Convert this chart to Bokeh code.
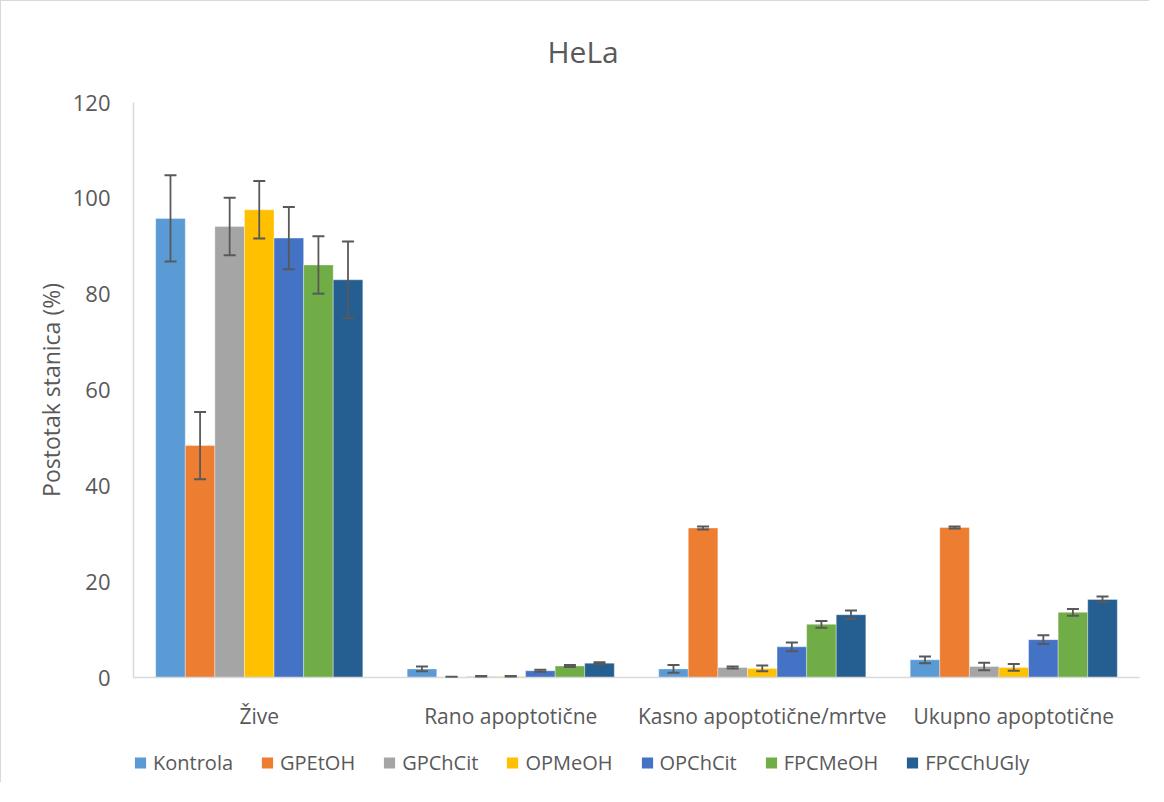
from bokeh.plotting import figure
from bokeh.models import ColumnDataSource, FactorRange, Range1d, Whisker, Legend, LegendItem, TeeHead
from bokeh.layouts import column
from bokeh.transform import dodge
from bokeh.embed import file_html
from bokeh.resources import INLINE

categories = ["Žive", "Rano apoptotične", "Kasno apoptotične/mrtve", "Ukupno apoptotične"]
series_names = ["Kontrola", "GPEtOH", "GPChCit", "OPMeOH", "OPChCit", "FPCMeOH", "FPCChUGly"]

kontrola = [95.8, 1.8, 1.8, 3.7]
kontrola_err = [9.0, 0.5, 0.8, 0.7]
gpetoh = [48.4, 0.1, 31.2, 31.3]
gpetoh_err = [7.0, 0.05, 0.3, 0.2]
gpchcit = [94.1, 0.2, 2.1, 2.3]
gpchcit_err = [6.0, 0.1, 0.2, 0.8]
opmeoh = [97.6, 0.2, 1.9, 2.1]
opmeoh_err = [6.0, 0.1, 0.6, 0.7]
opchcit = [91.7, 1.4, 6.4, 7.9]
opchcit_err = [6.5, 0.2, 0.9, 0.9]
fpcmeoh = [86.1, 2.4, 11.1, 13.6]
fpcmeoh_err = [6.0, 0.2, 0.7, 0.7]
fpcchugly = [83.0, 3.0, 13.1, 16.3]
fpcchugly_err = [8.0, 0.2, 0.9, 0.6]

values = [kontrola, gpetoh, gpchcit, opmeoh, opchcit, fpcmeoh, fpcchugly]
errors = [kontrola_err, gpetoh_err, gpchcit_err, opmeoh_err, opchcit_err, fpcmeoh_err, fpcchugly_err]
colors = ["#5B9BD5", "#ED7D31", "#A5A5A5", "#FFC000", "#4472C4", "#70AD47", "#255E91"]

y_ticks = [0, 20, 40, 60, 80, 100, 120]

FONT = "Open Sans"
TXT = "#595959"

p = figure(x_range=FactorRange(*categories), y_range=Range1d(0, 120),
           width=1148, height=741, output_backend="svg", toolbar_location=None,
           min_border_left=132, min_border_right=10, min_border_top=99, min_border_bottom=65)
p.x_range.range_padding = 0
p.outline_line_color = None
p.xgrid.grid_line_color = None
p.ygrid.grid_line_color = None

p.title.text = "HeLa"
p.title.text_font = FONT
p.title.text_font_size = "30px"
p.title.text_font_style = "normal"
p.title.text_color = TXT
p.title.align = "left"
p.title.offset = 414
p.title.vertical_align = "top"
p.title.standoff = 58

nb = len(series_names)
bw = 1.0 / (nb + 1.5)
for i, (name, vals, errs, col) in enumerate(zip(series_names, values, errors, colors)):
    src = ColumnDataSource(dict(cat=categories, val=vals,
                                upper=[v + e for v, e in zip(vals, errs)],
                                lower=[v - e for v, e in zip(vals, errs)]))
    off = (i - (nb - 1) / 2) * bw
    p.vbar(x=dodge("cat", off, range=p.x_range), top="val", width=bw, source=src,
           fill_color=col, line_color="white", line_alpha=0.35, line_width=1)
    w = Whisker(base=dodge("cat", off, range=p.x_range), upper="upper", lower="lower", source=src,
                line_color="#595959", line_width=1.8, level="annotation",
                upper_head=TeeHead(size=12, line_color="#595959", line_width=2),
                lower_head=TeeHead(size=12, line_color="#595959", line_width=2))
    p.add_layout(w)

p.yaxis.ticker = y_ticks
p.yaxis.axis_line_color = "#d9d9d9"
p.yaxis.axis_line_width = 1.5
p.yaxis.major_tick_line_color = None
p.yaxis.minor_tick_line_color = None
p.yaxis.major_label_text_font = FONT
p.yaxis.major_label_text_font_size = "22px"
p.yaxis.major_label_text_color = TXT
p.yaxis.major_label_standoff = 17
p.yaxis.axis_label = "Postotak stanica (%)"
p.yaxis.axis_label_text_font = FONT
p.yaxis.axis_label_text_font_size = "23px"
p.yaxis.axis_label_text_font_style = "normal"
p.yaxis.axis_label_text_color = TXT
p.yaxis.axis_label_standoff = 3

p.xaxis.axis_line_color = "#d9d9d9"
p.xaxis.axis_line_width = 1.5
p.xaxis.major_tick_line_color = None
p.xaxis.minor_tick_line_color = None
p.xaxis.major_label_text_font = FONT
p.xaxis.major_label_text_font_size = "21px"
p.xaxis.major_label_text_color = TXT
p.xaxis.major_label_standoff = 18

# legend strip below the chart (legend swatches use placeholder renderers with no drawable data)
lg = figure(width=1148, height=40, output_backend="svg", toolbar_location=None,
            x_range=Range1d(0, 1), y_range=Range1d(0, 1), x_axis_type=None, y_axis_type=None,
            min_border_left=0, min_border_right=0, min_border_top=0, min_border_bottom=0)
lg.outline_line_color = None
items = []
for name, col in zip(series_names, colors):
    r = lg.vbar(x=[float("nan")], top=[float("nan")], width=0.1, fill_color=col, line_color=None)
    items.append(LegendItem(label=name, renderers=[r]))
legend = Legend(items=items, orientation="horizontal", location="left",
                glyph_width=14, glyph_height=14, label_standoff=6, spacing=27,
                padding=0, margin=0, border_line_color=None, background_fill_alpha=0,
                label_text_font=FONT, label_text_font_size="20px", label_text_color=TXT)
lg.add_layout(legend, "center")

layout = column(p, lg, spacing=0)
layout.styles = {"border-left": "1px solid #d9d9d9", "border-top": "1px solid #d9d9d9"}

open("out.html", "w").write(file_html(layout, INLINE))
